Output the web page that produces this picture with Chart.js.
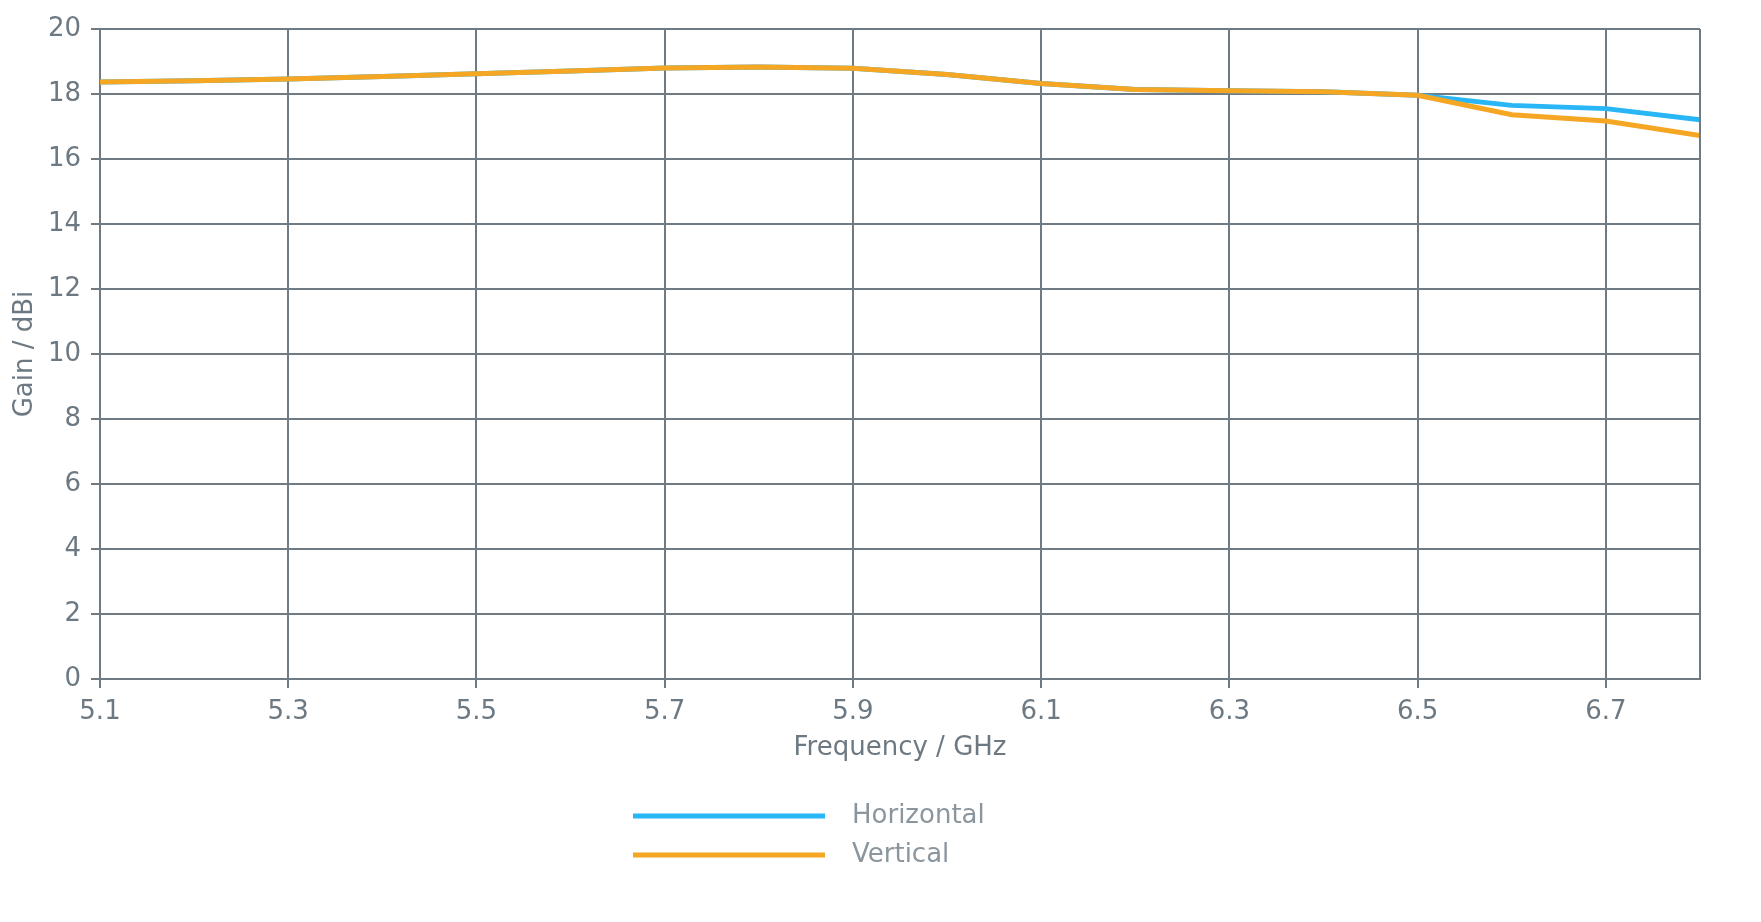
<!DOCTYPE html>
<html>
<head>
<meta charset="utf-8">
<script src="https://cdn.jsdelivr.net/npm/chart.js@4/dist/chart.umd.min.js"></script>
<style>
  html, body { margin: 0; padding: 0; background: #fff; }
  #wrap { width: 1761px; height: 922px; position: relative; }
</style>
</head>
<body>
<div id="wrap"><canvas id="gainChart"></canvas></div>
<script>
// frequency in GHz, gain in dBi
const freqs = [5.1, 5.2, 5.3, 5.4, 5.5, 5.6, 5.7, 5.8, 5.9, 6.0, 6.1, 6.2, 6.3, 6.4, 6.5, 6.6, 6.7, 6.8];
const horizontalGain = [18.37, 18.41, 18.46, 18.54, 18.62, 18.71, 18.80, 18.83, 18.79, 18.60, 18.32, 18.14, 18.10, 18.07, 17.96, 17.65, 17.55, 17.21];
const verticalGain = [18.37, 18.41, 18.46, 18.54, 18.62, 18.71, 18.80, 18.83, 18.79, 18.60, 18.32, 18.14, 18.10, 18.07, 17.96, 17.36, 17.17, 16.72];
const xTicks = [5.1, 5.3, 5.5, 5.7, 5.9, 6.1, 6.3, 6.5, 6.7];
const seriesNames = ['Horizontal', 'Vertical'];

const gridColor = '#6f7a82';
const textColor = '#6d7982';
const FONT = 'DejaVu Sans';

const toPoints = (vals) => vals.map((v, i) => ({ x: freqs[i], y: v }));

// right edge of the plot frame + stacked legend under the axis
const framePlugin = {
  id: 'frame',
  afterDraw(chart) {
    const { ctx, chartArea } = chart;
    ctx.save();
    ctx.strokeStyle = gridColor;
    ctx.lineWidth = 2;
    ctx.beginPath();
    ctx.moveTo(chartArea.right, chartArea.top);
    ctx.lineTo(chartArea.right, chartArea.bottom + 1);
    ctx.stroke();

    const x0 = chartArea.left + 533;
    const rows = [816, 855];
    chart.data.datasets.forEach((ds, i) => {
      ctx.strokeStyle = ds.borderColor;
      ctx.lineWidth = 5;
      ctx.beginPath();
      ctx.moveTo(x0, rows[i]);
      ctx.lineTo(x0 + 192, rows[i]);
      ctx.stroke();
      ctx.fillStyle = '#8a959d';
      ctx.font = '26px "' + FONT + '"';
      ctx.textBaseline = 'middle';
      ctx.textAlign = 'left';
      ctx.fillText(ds.label, x0 + 219, rows[i]);
    });
    ctx.restore();
  }
};

new Chart(document.getElementById('gainChart'), {
  type: 'line',
  data: {
    datasets: [
      {
        label: seriesNames[0],
        data: toPoints(horizontalGain),
        borderColor: '#29b6f6',
        borderWidth: 5,
        pointRadius: 0,
        tension: 0,
        order: 1,
      },
      {
        label: seriesNames[1],
        data: toPoints(verticalGain),
        borderColor: '#f5a623',
        borderWidth: 5,
        pointRadius: 0,
        tension: 0,
        order: 0,
      },
    ],
  },
  options: {
    responsive: true,
    maintainAspectRatio: false,
    animation: false,
    layout: { padding: { left: 0, top: 29, right: 61, bottom: 154 } },
    plugins: {
      legend: { display: false },
      tooltip: { enabled: false },
    },
    scales: {
      x: {
        type: 'linear',
        min: 5.1,
        max: 6.8,
        afterBuildTicks: (scale) => {
          scale.ticks = xTicks.map((v) => ({ value: v }));
        },
        afterFit: (scale) => { scale.height = 89; },
        ticks: {
          callback: (v) => v.toFixed(1),
          color: textColor,
          font: { family: FONT, size: 26 },
          padding: 9,
          maxRotation: 0,
        },
        grid: { color: gridColor, lineWidth: 2, tickLength: 9 },
        border: { color: gridColor, width: 2 },
        title: {
          display: true,
          text: 'Frequency / GHz',
          color: textColor,
          font: { family: FONT, size: 26 },
          padding: { top: 4, bottom: 4 },
        },
      },
      y: {
        min: 0,
        max: 20,
        afterFit: (scale) => { scale.width = 100; },
        ticks: {
          stepSize: 2,
          color: textColor,
          font: { family: FONT, size: 26 },
          padding: 10,
        },
        grid: { color: gridColor, lineWidth: 2, tickLength: 9 },
        border: { color: gridColor, width: 2 },
        title: {
          display: true,
          text: 'Gain / dBi',
          color: textColor,
          font: { family: FONT, size: 26 },
          padding: { top: 10, bottom: 4 },
        },
      },
    },
  },
  plugins: [framePlugin],
});
</script>
</body>
</html>
